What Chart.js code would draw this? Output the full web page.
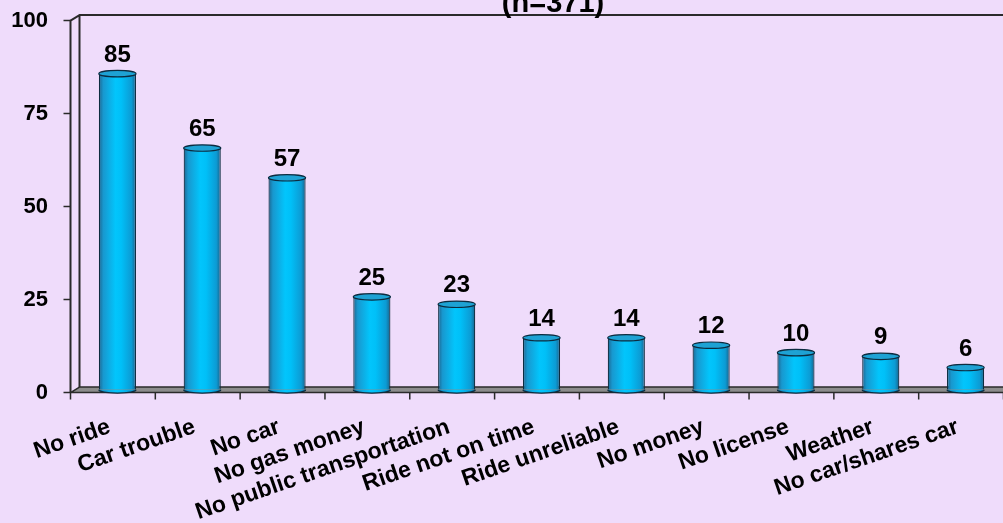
<!DOCTYPE html>
<html lang="en">
<head>
  <meta charset="UTF-8">
  <title>Reasons for missing a ride</title>
  <script src="https://cdn.jsdelivr.net/npm/chart.js"></script>
  <style>
    html, body { margin: 0; padding: 0; overflow: hidden; background: #efdcfb; }
    canvas { display: block; }
  </style>
</head>
<body>
  <canvas id="grafico" width="1010" height="523"></canvas>

  <script>
    // data
    const categories = ['No ride', 'Car trouble', 'No car', 'No gas money', 'No public transportation',
      'Ride not on time', 'Ride unreliable', 'No money', 'No license', 'Weather', 'No car/shares car'];
    const counts = [85, 65, 57, 25, 23, 14, 14, 12, 10, 9, 6];
    const yTicks = [0, 25, 50, 75, 100];
    const titleText = '(n=371)';

    const BG = '#efdcfb';
    const EDGE = '#2a2a2a';
    const FONT = "'Liberation Sans', Arial, sans-serif";
    // half the depth of the 3d box: bars sit in the middle plane (the chart area)
    const DX = 4.5, DY = -2.75;
    const CAP = 3.2;
    const CAT_PCT = 0.85, BAR_PCT = 0.515;

    Chart.defaults.font.family = FONT;
    Chart.defaults.color = '#000';

    // horizontal shading that makes a bar look round
    const corpo = (ctx, cx, w) => {
      const g = ctx.createLinearGradient(cx - w / 2, 0, cx + w / 2, 0);
      g.addColorStop(0, '#1b6690');
      g.addColorStop(0.12, '#1898cf');
      g.addColorStop(0.45, '#02c5fc');
      g.addColorStop(0.6, '#00c0f8');
      g.addColorStop(0.88, '#0c9bd4');
      g.addColorStop(1, '#19628a');
      return g;
    };

    const larguraBarra = (xs) => (xs.width / categories.length) * CAT_PCT * BAR_PCT;

    // walls, floor, tick marks, cylinder caps, value labels and title
    const caixa3d = {
      id: 'caixa3d',
      beforeDraw(chart) {
        const ctx = chart.ctx;
        ctx.save();
        ctx.fillStyle = BG;
        ctx.fillRect(0, 0, chart.width, chart.height);
        ctx.restore();
      },
      beforeDatasetsDraw(chart) {
        const { ctx, chartArea: a, scales: { x, y } } = chart;
        ctx.save();
        ctx.lineJoin = 'round';

        // floor
        ctx.beginPath();
        ctx.moveTo(a.left - DX, a.bottom - DY);
        ctx.lineTo(a.left + DX, a.bottom + DY);
        ctx.lineTo(a.right + DX, a.bottom + DY);
        ctx.lineTo(a.right - DX, a.bottom - DY);
        ctx.closePath();
        ctx.fillStyle = '#8c8c8c';
        ctx.fill();
        ctx.strokeStyle = EDGE;
        ctx.lineWidth = 1.5;
        ctx.stroke();

        // back and side walls
        ctx.beginPath();
        ctx.moveTo(a.right + DX, a.top + DY);
        ctx.lineTo(a.left + DX, a.top + DY);
        ctx.lineTo(a.left + DX, a.bottom + DY);
        ctx.moveTo(a.left + DX, a.top + DY);
        ctx.lineTo(a.left - DX, a.top - DY);
        ctx.lineTo(a.left - DX, a.bottom - DY);
        ctx.lineWidth = 2;
        ctx.stroke();

        // y tick marks on the front edge
        ctx.beginPath();
        yTicks.forEach(v => {
          const py = y.getPixelForValue(v) - DY;
          ctx.moveTo(a.left - DX - 7, py);
          ctx.lineTo(a.left - DX, py);
        });
        // x tick marks between categories
        const passo = x.width / categories.length;
        for (let i = 0; i <= categories.length; i++) {
          const px = x.left + i * passo - DX;
          ctx.moveTo(px, a.bottom - DY);
          ctx.lineTo(px, a.bottom - DY + 7);
        }
        ctx.lineWidth = 1.5;
        ctx.stroke();
        ctx.restore();
      },
      afterDatasetsDraw(chart) {
        const ctx = chart.ctx;
        const meta = chart.getDatasetMeta(0);
        ctx.save();
        ctx.strokeStyle = '#0c2c40';
        ctx.lineWidth = 1.2;
        meta.data.forEach((bar, i) => {
          const { x: cx, y: topo, base, width } = bar.getProps(['x', 'y', 'base', 'width'], true);
          const rx = width / 2;

          // rounded bottom
          ctx.beginPath();
          ctx.ellipse(cx, base, rx, CAP, 0, 0, Math.PI);
          ctx.fillStyle = corpo(ctx, cx, width);
          ctx.fill();
          ctx.stroke();

          // top cap
          ctx.beginPath();
          ctx.ellipse(cx, topo, rx, CAP, 0, 0, Math.PI * 2);
          ctx.fillStyle = '#1ea2d4';
          ctx.fill();
          ctx.stroke();

          // value
          ctx.fillStyle = '#000';
          ctx.font = 'bold 24px ' + FONT;
          ctx.textAlign = 'center';
          ctx.textBaseline = 'alphabetic';
          ctx.fillText(String(counts[i]), cx, topo - 12);
        });
        ctx.restore();
      },
      afterDraw(chart) {
        const ctx = chart.ctx;
        ctx.save();
        ctx.fillStyle = '#000';
        ctx.font = 'bold 29px ' + FONT;
        ctx.textAlign = 'center';
        ctx.textBaseline = 'alphabetic';
        ctx.fillText(titleText, 553, 11.5);
        ctx.restore();
      }
    };

    new Chart(document.getElementById('grafico'), {
      type: 'bar',
      data: {
        labels: categories,
        datasets: [{
          data: counts,
          backgroundColor: (c) => {
            const xs = c.chart.scales.x;
            if (!xs || c.dataIndex === undefined) return '#00c2f8';
            const cx = xs.getPixelForValue(c.dataIndex);
            const w = larguraBarra(xs);
            if (!Number.isFinite(cx) || !Number.isFinite(w)) return '#00c2f8';
            return corpo(c.chart.ctx, cx, w);
          },
          borderColor: '#0c2c40',
          borderWidth: { left: 1.2, right: 1.2, top: 0, bottom: 0 },
          borderSkipped: false,
          categoryPercentage: CAT_PCT,
          barPercentage: BAR_PCT
        }]
      },
      options: {
        responsive: false,
        animation: false,
        events: [],
        layout: { padding: { top: 17.85, right: 2, bottom: 0, left: 0 } },
        plugins: { legend: { display: false }, tooltip: { enabled: false } },
        scales: {
          x: {
            // tick marks are drawn by the plugin; tickLength only spaces the labels
            grid: { display: false, drawTicks: true, tickLength: 23.5 },
            border: { display: false },
            ticks: {
              autoSkip: false,
              minRotation: 19,
              maxRotation: 19,
              padding: 0,
              labelOffset: -7.8,
              font: { size: 23, weight: 'bold' }
            },
            afterFit: (s) => { s.height = 133.15; }
          },
          y: {
            min: 0,
            max: 100,
            grid: { display: false, drawTicks: true, tickLength: 27 },
            border: { display: false },
            afterBuildTicks: (s) => { s.ticks = yTicks.map(v => ({ value: v })); },
            ticks: {
              padding: 0,
              labelOffset: 3,
              font: { size: 22, weight: 'bold' }
            },
            afterFit: (s) => { s.width = 75; }
          }
        }
      },
      plugins: [caixa3d]
    });
  </script>
</body>
</html>
